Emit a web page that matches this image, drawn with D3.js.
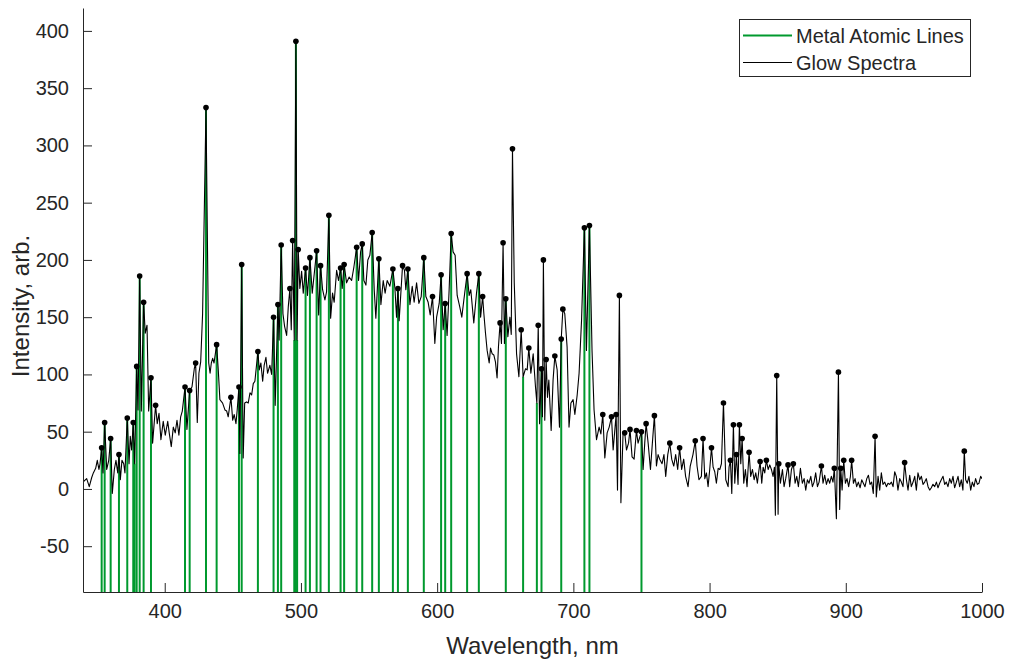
<!DOCTYPE html>
<html>
<head>
<meta charset="utf-8">
<script src="https://cdn.jsdelivr.net/npm/d3@7"></script>
<style>
  html, body { margin: 0; padding: 0; background: #fff; }
  svg { display: block; }
  text { font-family: "Liberation Sans", Arial, Helvetica, sans-serif; fill: #262626; }
</style>
</head>
<body>
<svg id="chart" width="1015" height="664"></svg>
<script>
// Glow discharge emission spectrum: [wavelength nm, intensity arb.]
const spectrum = [
  [340.0,6],[342.7,9],[344.6,2],[346.4,10],[347.6,14],[349.3,18],[350.5,25],[351.7,17],[352.5,22],
  [353.7,36],[354.7,14],[355.9,58],[357.4,17],[358.9,25],[360.3,44],[361.5,-4],[363.0,17],[364.2,25],
  [365.5,14],[366.4,30],[367.4,8],[368.6,25],[369.9,22],[370.8,14],[372.5,62],[373.8,22],[374.7,46],
  [375.7,34],[376.9,58],[377.9,22],[379.4,107],[380.4,69],[381.6,186],[382.8,68],[384.5,163],[385.7,136],
  [387.0,143],[388.2,68],[389.9,97],[391.1,40],[393.3,73],[394.5,57],[395.8,66],[397.2,43],[398.9,59],
  [400.4,47],[402.2,59],[403.3,49],[404.8,37],[406.3,54],[407.7,49],[409.0,60],[410.4,47],[411.7,63],
  [412.9,68],[414.9,89],[416.3,52],[418.3,86],[420.0,89],[421.7,105],[422.7,110],[423.9,58],[425.1,101],
  [426.4,111],[427.8,153],[430.3,333],[432.3,110],[433.3,101],[434.2,110],[435.2,114],[436.2,110],
  [438.1,126],[439.3,104],[440.5,78],[442.5,75],[444.2,69],[445.5,68],[446.6,63],[448.6,80],[449.9,60],
  [451.0,65],[452.3,57],[453.2,69],[454.5,89],[455.2,31],[456.5,196],[457.6,27],[458.7,75],[460.1,76],
  [461.3,75],[462.6,84],[463.8,82],[465.0,92],[466.2,94],[468.4,120],[469.4,104],[470.6,110],[471.9,94],
  [473.0,108],[474.3,115],[475.5,101],[477.2,108],[478.5,100],[479.9,150],[481.1,73],[483.1,161],
  [484.0,130],[485.5,213],[486.8,153],[488.0,142],[489.5,134],[490.7,159],[491.9,175],[492.9,139],
  [493.9,217],[495.1,130],[496.3,391],[497.2,130],[498.0,209],[499.2,175],[500.5,190],[501.7,171],
  [503.4,193],[504.8,169],[506.6,202],[508.3,171],[510.3,194],[511.5,208],[513.0,152],[514.4,195],
  [515.9,174],[517.6,165],[518.8,172],[520.5,239],[521.8,149],[523.2,171],[524.4,163],[526.2,191],
  [527.6,182],[529.1,193],[530.3,175],[531.7,196],[533.5,180],[535.4,185],[537.2,182],[538.9,194],
  [540.9,211],[542.3,182],[543.8,207],[545.0,214],[546.2,182],[547.7,178],[549.1,200],[550.6,204],
  [552.3,224],[553.8,174],[555.0,149],[557.2,201],[558.7,161],[560.4,182],[561.8,171],[563.3,182],
  [565.3,177],[567.5,192],[569.0,175],[570.2,150],[571.2,175],[572.1,147],[574.6,195],[576.0,191],
  [577.0,174],[578.5,192],[580.0,161],[581.7,177],[583.1,163],[584.9,180],[586.6,162],[588.3,168],
  [590.2,202],[591.7,168],[593.4,163],[594.9,152],[596.6,168],[598.3,127],[599.6,150],[601.5,162],
  [602.9,187],[604.4,139],[605.9,162],[607.3,134],[608.8,174],[610.3,223],[611.7,207],[613.2,204],
  [614.7,169],[616.6,159],[618.1,150],[619.6,165],[622.0,188],[623.5,169],[624.7,174],[626.9,145],
  [628.9,171],[630.6,188],[631.9,150],[633.4,168],[634.3,153],[635.5,136],[636.7,121],[638.2,110],
  [639.2,123],[640.4,118],[641.6,117],[642.8,111],[644.0,97],[645.0,124],[646.2,145],[647.2,127],
  [648.4,215],[649.4,127],[650.4,166],[651.9,133],[653.4,150],[654.4,135],[655.3,297],[656.6,180],
  [658.3,118],[660.0,98],[661.7,139],[663.1,98],[664.9,105],[666.1,104],[667.3,123],[668.8,101],
  [670.5,118],[672.2,89],[673.2,75],[674.2,143],[675.2,57],[676.6,105],[677.3,63],[678.0,200],[679.0,60],
  [680.0,113],[681.0,80],[682.0,95],[683.7,51],[685.1,95],[686.4,116],[688.1,104],[689.8,54],[691.1,131],
  [692.3,157],[693.7,153],[695.4,124],[696.8,54],[698.2,75],[699.8,78],[701.1,65],[702.8,82],[704.2,101],
  [706.0,147],[708.1,228],[709.6,121],[711.8,230],[713.7,121],[715.2,69],[717.0,43],[718.9,54],[720.2,48],
  [721.6,65],[723.1,27],[724.8,49],[726.3,54],[728.0,63],[729.2,34],[731.4,65],[732.4,-1],[733.8,169],
  [734.9,-12],[736.5,49],[737.7,49],[739.0,34],[740.5,40],[741.6,52],[743.1,28],[744.6,26],[746.3,51],
  [747.5,40],[748.7,45],[750.0,50],[751.2,17],[752.4,40],[753.4,57],[754.9,40],[756.6,17],[758.0,40],
  [759.5,64],[761.0,20],[762.2,30],[763.4,26],[765.1,22],[766.5,30],[767.8,11],[769.3,30],[770.8,40],
  [772.2,26],[773.7,20],[775.1,30],[776.6,17],[778.0,36],[779.5,17],[781.0,26],[782.4,11],[784.2,2],
  [785.8,20],[787.8,30],[789.5,42],[790.8,20],[792.2,8],[794.0,11],[795.2,44],[796.5,9],[797.7,14],
  [798.9,2],[800.1,17],[801.4,36],[802.6,19],[803.8,15],[805.0,5],[806.3,18],[807.5,17],[808.7,22],
  [810.2,75],[811.9,8],[813.6,2],[814.3,19],[815.3,25],[816.3,-4],[817.5,56],[818.5,5],[819.7,30],
  [820.9,4],[821.9,56],[822.9,22],[823.9,44],[825.1,5],[826.3,17],[827.5,2],[829.0,32],[830.2,11],
  [831.5,17],[832.7,8],[833.9,14],[835.1,5],[836.1,15],[837.1,24],[838.3,5],[839.3,19],[840.5,14],
  [841.7,25],[843.0,17],[844.2,21],[845.4,17],[846.6,11],[847.6,19],[848.3,-23],[849.3,99],[850.3,-22],
  [850.8,22],[852.0,5],[853.5,17],[854.7,2],[855.9,9],[857.6,21],[858.8,2],[860.1,17],[861.5,22],
  [862.8,5],[864.0,11],[865.2,2],[866.7,18],[868.1,5],[869.4,9],[870.6,-1],[871.8,8],[873.0,5],
  [874.3,11],[875.5,2],[876.7,6],[877.9,14],[879.2,2],[880.4,6],[882.1,20],[883.3,5],[884.5,12],
  [885.8,4],[887.0,9],[888.2,5],[889.4,11],[890.6,6],[891.6,18],[893.1,-26],[894.6,102],[895.5,-18],
  [896.3,18],[897.3,-1],[898.5,25],[899.7,5],[900.9,9],[902.1,2],[903.4,11],[904.3,25],[905.6,5],
  [906.8,9],[908.0,2],[909.2,6],[910.5,1],[911.7,8],[912.9,5],[914.1,2],[915.4,9],[916.6,12],[917.8,4],
  [919.0,6],[920.2,-4],[921.5,46],[922.4,-7],[923.7,11],[924.9,-1],[926.1,14],[927.3,4],[928.6,6],
  [929.8,2],[931.0,5],[932.2,4],[933.5,6],[934.7,2],[935.9,15],[937.1,11],[938.3,-1],[939.6,9],[940.8,6],
  [942.0,2],[943.2,23],[944.5,8],[945.7,-1],[946.9,12],[948.1,2],[949.4,6],[950.6,11],[951.8,-1],
  [953.0,14],[954.3,8],[955.5,11],[956.7,4],[957.9,6],[959.1,9],[960.4,2],[961.6,-1],[962.8,1],[964.0,4],
  [965.3,2],[966.5,6],[967.7,1],[968.9,5],[970.1,8],[971.4,11],[972.6,4],[973.8,6],[975.0,2],[976.3,9],
  [977.5,5],[978.7,11],[979.9,1],[981.2,6],[982.4,11],[983.6,2],[984.8,8],[986.0,-1],[987.0,33],
  [988.0,8],[989.2,5],[990.4,11],[991.7,-1],[992.9,6],[994.1,2],[995.3,9],[996.6,4],[997.8,5],
  [999.0,11],[1000.0,9]
];

// Wavelengths of the marked spectral peaks
const peakWavelengths = [
  353.7,355.9,360.3,366.4,372.5,376.9,379.4,381.6,384.5,389.9,393.3,414.9,418.3,422.7,430.3,438.1,
  448.6,454.5,456.5,468.4,479.9,483.1,485.5,491.9,493.9,496.3,498.0,503.4,506.6,511.5,514.4,520.5,
  529.1,531.7,540.9,545.0,552.3,557.2,567.5,571.2,574.6,578.5,590.2,596.6,602.9,605.9,610.3,622.0,
  630.6,633.4,646.2,648.4,650.4,655.3,661.7,667.3,674.2,676.6,678.0,680.0,686.4,691.1,692.3,708.1,
  711.8,721.6,728.0,731.4,733.8,737.7,741.6,746.3,750.0,753.4,759.5,770.8,778.0,789.5,795.2,801.4,
  810.2,815.3,817.5,819.7,821.9,823.9,829.0,837.1,841.7,849.3,850.8,857.6,861.5,882.1,891.6,894.6,
  896.3,898.5,904.3,921.5,943.2,987.0
];

// Reference wavelengths of metal atomic emission lines (nm)
const metalLines = [
  353.7,355.9,360.3,366.4,372.5,376.9,377.9,379.4,381.6,384.5,389.9,414.9,418.3,430.3,438.1,454.5,
  456.5,468.4,479.9,483.1,485.5,495.1,496.3,497.2,503.4,506.6,511.5,514.4,520.5,529.1,531.7,540.9,
  545.0,552.3,557.2,567.5,571.2,578.5,590.2,602.9,605.9,610.3,622.0,630.6,650.4,663.1,673.2,676.6,
  691.1,708.1,711.8,750.0
];

const xTicks = [400, 500, 600, 700, 800, 900, 1000];
const yTicks = [-50, 0, 50, 100, 150, 200, 250, 300, 350, 400];
const xDomain = [340, 1000];
const yDomain = [-90, 420];
const legendLabels = ["Metal Atomic Lines", "Glow Spectra"];

const GREEN = "#00992e";
const AXIS = "#262626";

const svg = d3.select("#chart");
const plot = { left: 83, right: 982, top: 8, bottom: 592 };

const x = d3.scaleLinear().domain(xDomain).range([plot.left, plot.right]);
const y = d3.scaleLinear().domain(yDomain).range([plot.bottom, plot.top]);

// intensity at the spectrum sample nearest a given wavelength
const nearest = wl => d3.least(spectrum, d => Math.abs(d[0] - wl))[1];

svg.append("defs").append("clipPath").attr("id", "plotClip")
  .append("rect")
  .attr("x", plot.left).attr("y", plot.top)
  .attr("width", plot.right - plot.left).attr("height", plot.bottom - plot.top);

const g = svg.append("g").attr("clip-path", "url(#plotClip)");

// metal line stems from the bottom of the axes up to the spectrum
g.append("g").selectAll("line").data(metalLines).join("line")
  .attr("x1", d => x(d)).attr("x2", d => x(d))
  .attr("y1", y(yDomain[0])).attr("y2", d => y(nearest(d)))
  .attr("stroke", GREEN).attr("stroke-width", 2);

// spectrum trace
g.append("path").datum(spectrum)
  .attr("fill", "none").attr("stroke", "#000").attr("stroke-width", 1.1)
  .attr("stroke-linejoin", "round")
  .attr("d", d3.line().x(d => x(d[0])).y(d => y(d[1])));

// peak markers
g.append("g").selectAll("circle").data(peakWavelengths).join("circle")
  .attr("cx", d => x(d)).attr("cy", d => y(nearest(d)))
  .attr("r", 2.8).attr("fill", "#000");

// axes
const fmt = d => String(d);
const xAxis = d3.axisBottom(x).tickValues(xTicks).tickFormat(fmt)
  .tickSizeInner(-9).tickSizeOuter(0).tickPadding(12);
const yAxis = d3.axisLeft(y).tickValues(yTicks).tickFormat(fmt)
  .tickSizeInner(-9).tickSizeOuter(0).tickPadding(14);

const gx = svg.append("g").attr("transform", `translate(0,${plot.bottom})`).call(xAxis);
const gy = svg.append("g").attr("transform", `translate(${plot.left},0)`).call(yAxis);

[gx, gy].forEach(a => {
  a.select(".domain").attr("stroke", AXIS).attr("stroke-width", 1);
  a.selectAll(".tick line").attr("stroke", AXIS).attr("stroke-width", 1);
  a.selectAll(".tick text").attr("fill", AXIS)
    .style("font-family", '"Liberation Sans", Arial, sans-serif').style("font-size", "20px");
});

// axis titles
svg.append("text").attr("x", (plot.left + plot.right) / 2).attr("y", 654)
  .attr("text-anchor", "middle").style("font-size", "24px").text("Wavelength, nm");
svg.append("text").attr("transform", `translate(29,306) rotate(-90)`)
  .attr("text-anchor", "middle").style("font-size", "24px").text("Intensity, arb.");

// legend
const lg = svg.append("g");
lg.append("rect").attr("x", 739.5).attr("y", 19.5).attr("width", 231).attr("height", 57)
  .attr("fill", "#fff").attr("stroke", AXIS).attr("stroke-width", 1);
const legendColors = [GREEN, "#000"];
const legendWidths = [2, 1];
legendLabels.forEach((lab, i) => {
  const yy = 35.5 + i * 27;
  lg.append("line").attr("x1", 743).attr("x2", 792).attr("y1", yy).attr("y2", yy)
    .attr("stroke", legendColors[i]).attr("stroke-width", legendWidths[i]);
  lg.append("text").attr("x", 796).attr("y", yy + 7).style("font-size", "20px").attr("fill", "#000").text(lab);
});
</script>
</body>
</html>
